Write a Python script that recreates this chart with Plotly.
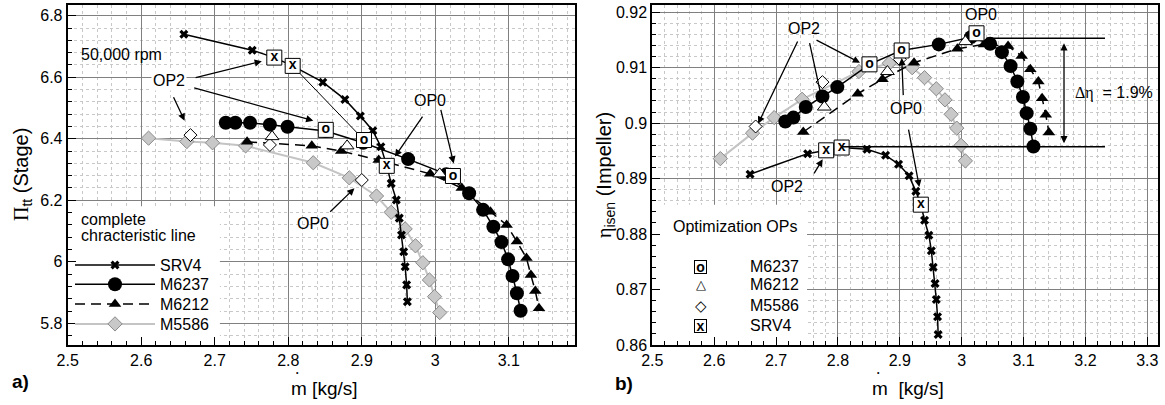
import plotly.graph_objects as go

# ---------------- data ----------------
# SRV4 (complete characteristic line)
m_srv4 = [2.658, 2.751, 2.781, 2.806, 2.847, 2.877, 2.898, 2.915, 2.926, 2.934,
          2.940, 2.947, 2.951, 2.954, 2.957, 2.959, 2.961, 2.962]
pr_srv4 = [6.740, 6.688, 6.664, 6.637, 6.584, 6.528, 6.474, 6.426, 6.374, 6.312,
           6.255, 6.201, 6.142, 6.087, 6.033, 5.984, 5.925, 5.870]
eta_srv4 = [0.8908, 0.8945, 0.8951, 0.8956, 0.8953, 0.8942, 0.8926, 0.8905, 0.8877, 0.8853,
            0.8825, 0.8798, 0.8770, 0.8740, 0.8711, 0.8682, 0.8651, 0.8619]

# M6237
m_m6237 = [2.715, 2.728, 2.748, 2.775, 2.799, 2.851, 2.902, 2.963, 3.015,
           3.046, 3.065, 3.079, 3.090, 3.099, 3.105, 3.111, 3.116]
pr_m6237 = [6.452, 6.452, 6.452, 6.446, 6.439, 6.425, 6.387, 6.334, 6.285,
            6.223, 6.169, 6.114, 6.064, 6.008, 5.954, 5.898, 5.841]
eta_m6237 = [0.9003, 0.9010, 0.9029, 0.9048, 0.9065, 0.9106, 0.9131, 0.9142, 0.9155,
             0.9143, 0.9128, 0.9103, 0.9075, 0.9047, 0.9018, 0.8990, 0.8958]

# M6212
m_m6212 = [2.744, 2.832, 2.872, 2.923, 2.993, 3.036, 3.075, 3.097, 3.111,
           3.124, 3.130, 3.136, 3.141]
pr_m6212 = [6.390, 6.377, 6.360, 6.331, 6.286, 6.240, 6.163, 6.120, 6.066,
            6.012, 5.957, 5.905, 5.849]
eta_m6212 = [0.8984, 0.9053, 0.9079, 0.9109, 0.9134, 0.9142, 0.9139, 0.9121, 0.9097,
             0.9075, 0.9045, 0.9015, 0.8983]

# M5586
m_m5586 = [2.610, 2.662, 2.697, 2.742, 2.834, 2.883, 2.920, 2.940, 2.959,
           2.973, 2.983, 2.992, 2.999, 3.006]
pr_m5586 = [6.402, 6.391, 6.387, 6.377, 6.322, 6.273, 6.214, 6.161, 6.107,
            6.052, 5.997, 5.941, 5.887, 5.835]
eta_m5586 = [0.8936, 0.8982, 0.9010, 0.9043, 0.9093, 0.9108, 0.9100, 0.9082, 0.9062,
             0.9042, 0.9016, 0.8991, 0.8960, 0.8932]

# optimization operating points (OP2, OP1, OP0)
op_m_srv4 = [2.781, 2.806, 2.934]
op_pr_srv4 = [6.664, 6.637, 6.312]
op_eta_srv4 = [0.8951, 0.8956, 0.8853]

op_m_m6237 = [2.851, 2.903, 3.024]
op_pr_m6237 = [6.429, 6.396, 6.279]
op_eta_m6237 = [0.9106, 0.9131, 0.9162]

op_m_m6212 = [2.778, 2.880, 3.006]
op_pr_m6212 = [6.407, 6.377, 6.286]
op_eta_m6212 = [0.9029, 0.9093, 0.9147]

op_m_m5586 = [2.667, 2.775, 2.900]
op_pr_m5586 = [6.412, 6.380, 6.266]
op_eta_m5586 = [0.8994, 0.9074, 0.9115]

FONT = "Liberation Sans, Arial, sans-serif"
GRAY_FILL = "#c8c8c8"
GRAY_EDGE = "#8a8a8a"
GRAY_LINE = "#c4c4c4"

fig = go.Figure()


def curves(xa, ya, yvals, showlegend):
    y_srv4, y_m6237, y_m6212, y_m5586 = yvals
    fig.add_trace(go.Scatter(
        x=m_m5586, y=y_m5586, mode="lines+markers", name="M5586",
        xaxis=xa, yaxis=ya, showlegend=showlegend, legend="legend4",
        line=dict(color=GRAY_LINE, width=2),
        marker=dict(symbol="diamond", size=11, color=GRAY_FILL,
                    line=dict(color=GRAY_EDGE, width=1))))
    fig.add_trace(go.Scatter(
        x=m_m6212, y=y_m6212, mode="lines+markers", name="M6212",
        xaxis=xa, yaxis=ya, showlegend=showlegend, legend="legend3",
        line=dict(color="black", width=1.5, dash="10px,6px"),
        marker=dict(symbol="triangle-up", size=11, color="black")))
    fig.add_trace(go.Scatter(
        x=m_m6237, y=y_m6237, mode="lines+markers", name="M6237",
        xaxis=xa, yaxis=ya, showlegend=showlegend, legend="legend2",
        line=dict(color="black", width=1.5),
        marker=dict(symbol="circle", size=14, color="black")))
    fig.add_trace(go.Scatter(
        x=m_srv4, y=y_srv4, mode="lines+markers", name="SRV4",
        xaxis=xa, yaxis=ya, showlegend=showlegend, legend="legend",
        line=dict(color="black", width=1.5),
        marker=dict(symbol="x", size=8, color="black", line=dict(width=0))))


def op_points(xa, ya, yvals):
    y_srv4, y_m6237, y_m6212, y_m5586 = yvals
    fig.add_trace(go.Scatter(
        x=op_m_m5586, y=y_m5586, mode="markers", xaxis=xa, yaxis=ya, showlegend=False,
        marker=dict(symbol="diamond", size=10, color="white", line=dict(color="black", width=1))))
    fig.add_trace(go.Scatter(
        x=op_m_m6212, y=y_m6212, mode="markers", xaxis=xa, yaxis=ya, showlegend=False,
        marker=dict(symbol="triangle-up", size=12, color="white", line=dict(color="black", width=1))))
    for mx, my, t in ((op_m_m6237, y_m6237, "o"), (op_m_srv4, y_srv4, "x")):
        fig.add_trace(go.Scatter(
            x=mx, y=my, mode="markers+text", xaxis=xa, yaxis=ya, showlegend=False,
            text=["<b>%s</b>" % t] * len(mx), textposition="middle center",
            textfont=dict(family=FONT, size=14, color="black"),
            marker=dict(symbol="square", size=15, color="white", line=dict(color="black", width=1))))


curves("x", "y", (pr_srv4, pr_m6237, pr_m6212, pr_m5586), True)
op_points("x", "y", (op_pr_srv4, op_pr_m6237, op_pr_m6212, op_pr_m5586))
curves("x2", "y2", (eta_srv4, eta_m6237, eta_m6212, eta_m5586), False)
op_points("x2", "y2", (op_eta_srv4, op_eta_m6237, op_eta_m6212, op_eta_m5586))


# ---------------- axes ----------------
def axis_common():
    return dict(showline=True, mirror=True, linecolor="black", linewidth=2,
                ticks="inside", ticklen=8, tickcolor="black", tickwidth=1,
                showgrid=True, gridcolor="#808080", gridwidth=1, zeroline=False,
                automargin=False,
                tickfont=dict(family=FONT, size=16, color="black"))


def xax(domain, rng, anchor):
    d = axis_common()
    d.update(domain=domain, range=rng, anchor=anchor, dtick=0.1, tick0=2.5,
             minor=dict(dtick=0.02, showgrid=True, gridcolor="#c8c8c8", griddash="dot",
                        gridwidth=1, ticks="inside", ticklen=4, tickcolor="black"))
    return d


def yax(rng, anchor, dtick, mdtick, tick0):
    d = axis_common()
    d.update(range=rng, anchor=anchor, dtick=dtick, tick0=tick0, domain=[0, 1],
             minor=dict(dtick=mdtick, showgrid=True, gridcolor="#c8c8c8", griddash="dot",
                        gridwidth=1, ticks="inside", ticklen=4, tickcolor="black"))
    return d


W, H = 1165, 405
TOP, BOT = 5, 345


def py(p):  # pixel row -> paper y
    return (BOT - p) / (BOT - TOP)


def leg(ypix):
    return dict(x=70 / W, xanchor="left", y=py(ypix), yanchor="middle",
                bgcolor="rgba(0,0,0,0)", borderwidth=0,
                font=dict(family=FONT, size=16, color="black"), itemwidth=80)


fig.update_layout(
    width=W, height=H, margin=dict(l=0, r=0, t=TOP, b=H - BOT),
    paper_bgcolor="white", plot_bgcolor="white", hovermode=False,
    font=dict(family=FONT, size=16, color="black"),
    xaxis=xax([67.7 / W, 575 / W], [2.5, 3.19], "y"),
    yaxis=yax([5.7295, 6.835], "x", 0.2, 0.04, 5.8),
    xaxis2=xax([652.3 / W, 1158 / W], [2.5, 3.3173], "y2"),
    yaxis2=yax([0.86, 0.9213], "x2", 0.01, 0.002, 0.86),
    showlegend=True,
    legend=leg(265), legend2=leg(284.3), legend3=leg(304), legend4=leg(324),
)

shapes = [
    # white legend backgrounds (hide grid)
    dict(type="rect", xref="x", yref="y", x0=2.5, x1=2.707, y0=5.7295, y1=6.181,
         fillcolor="white", line=dict(width=0), layer="between"),
    dict(type="rect", xref="x2", yref="y2", x0=2.5, x1=2.75, y0=0.86, y1=0.8853,
         fillcolor="white", line=dict(width=0), layer="between"),
    # thin connecting line between OPs (left)
    dict(type="line", xref="x", yref="y", x0=2.806, y0=6.637, x1=2.903, y1=6.396,
         line=dict(color="black", width=1), layer="between"),
    # delta eta reference lines (right)
    dict(type="line", xref="x2", yref="y2", x0=3.040, y0=0.91531, x1=3.2316, y1=0.91531,
         line=dict(color="black", width=1.5)),
    dict(type="line", xref="x2", yref="y2", x0=2.806, y0=0.89576, x1=3.2316, y1=0.89576,
         line=dict(color="black", width=1.5)),
]
fig.update_layout(shapes=shapes)

ann = []


def arrow(xr, yr, hx, hy, tx, ty, side="end"):
    ann.append(dict(xref=xr, yref=yr, axref=xr, ayref=yr, x=hx, y=hy, ax=tx, ay=ty,
                    text="", showarrow=True, arrowhead=2, arrowsize=1.1, arrowwidth=1.3,
                    arrowcolor="black", arrowside=side, standoff=0, startstandoff=0))


def label(xr, yr, x, y, text, size=16, xanchor="center", **kw):
    d = dict(xref=xr, yref=yr, x=x, y=y, text=text, showarrow=False, xanchor=xanchor,
             yanchor="middle", font=dict(family=FONT, size=size, color="black"))
    d.update(kw)
    ann.append(d)


# left panel labels and arrows
label("x", "y", 2.515, 6.675, "50,000 rpm", xanchor="left")
label("x", "y", 2.638, 6.588, "OP2", bgcolor="white")
label("x", "y", 2.993, 6.526, "OP0")
label("x", "y", 2.834, 6.125, "OP0")
arrow("x", "y", 2.764, 6.652, 2.672, 6.598)
arrow("x", "y", 2.834, 6.459, 2.670, 6.567)
arrow("x", "y", 2.659, 6.459, 2.643, 6.540)
arrow("x", "y", 2.945, 6.342, 2.984, 6.477)
arrow("x", "y", 3.025, 6.320, 3.007, 6.499)
arrow("x", "y", 2.890, 6.239, 2.855, 6.158)

# left legend title
label("paper", "paper", 79 / W, py(219), "complete", xanchor="left")
label("paper", "paper", 79 / W, py(235.5), "chracteristic line", xanchor="left")

# right panel labels and arrows
label("x2", "y2", 2.745, 0.91711, "OP2")
label("x2", "y2", 2.717, 0.88855, "OP2")
label("x2", "y2", 3.032, 0.91951, "OP0")
label("x2", "y2", 2.9097, 0.90269, "OP0")
arrow("x2", "y2", 2.671, 0.8999, 2.736, 0.9150)
arrow("x2", "y2", 2.7743, 0.9042, 2.7537, 0.9147)
arrow("x2", "y2", 2.8357, 0.9109, 2.763, 0.9151)
arrow("x2", "y2", 2.7754, 0.89349, 2.760, 0.89066)
arrow("x2", "y2", 2.9031, 0.91176, 2.9057, 0.90478)
arrow("x2", "y2", 2.9315, 0.88849, 2.9137, 0.89908)
arrow("x2", "y2", 3.1654, 0.9144, 3.1654, 0.8961, side="end+start")
label("x2", "y2", 3.180, 0.9054,
      "<span style='font-family:Liberation Serif'>\u0394\u03b7</span>\u00a0\u00a0= 1.9%",
      xanchor="left")

# right panel legend (Optimization OPs)
label("x2", "y2", 2.5297, 0.88133, "Optimization OPs", xanchor="left")
leg_y = [0.87412, 0.87082, 0.86721, 0.86348]
leg_names = ["M6237", "M6212", "M5586", "SRV4"]
for yy, nm in zip(leg_y, leg_names):
    label("x2", "y2", 2.6552, yy, nm, xanchor="left")
ann.append(dict(xref="x2", yref="y2", x=2.5782, y=leg_y[0], text="<b>o</b>", showarrow=False,
                font=dict(family=FONT, size=14), bordercolor="black", borderwidth=1,
                bgcolor="white", width=11, height=12, borderpad=0))
ann.append(dict(xref="x2", yref="y2", x=2.5782, y=leg_y[3], text="<b>x</b>", showarrow=False,
                font=dict(family=FONT, size=14), bordercolor="black", borderwidth=1,
                bgcolor="white", width=11, height=12, borderpad=0))
label("x2", "y2", 2.5782, leg_y[1], "\u25b3", size=13)
label("x2", "y2", 2.5782, leg_y[2], "\u25c7", size=15)

# axis titles
label("paper", "paper", 324 / W, py(388), "m [kg/s]", size=19)
label("paper", "paper", 297 / W, py(372.5), "\u2022", size=7)
label("paper", "paper", 908 / W, py(388), "m\u00a0\u00a0[kg/s]", size=19)
label("paper", "paper", 878.5 / W, py(372.5), "\u2022", size=7)
label("paper", "paper", 22 / W, 0.5,
      "<span style='font-family:Liberation Serif'>\u03a0</span><sub>tt</sub> (Stage)",
      size=20, textangle=-90)
label("paper", "paper", 605 / W, 0.5,
      "<span style='font-family:Liberation Serif'>\u03b7</span><sub>isen</sub> (Impeller)",
      size=20, textangle=-90)
# panel labels
label("paper", "paper", 20 / W, py(381), "<b>a)</b>", size=19)
label("paper", "paper", 624 / W, py(383), "<b>b)</b>", size=19)

fig.update_layout(annotations=ann)
fig.write_html("out.html", config={"displayModeBar": False},
               post_script="document.body.style.margin='0px';")
